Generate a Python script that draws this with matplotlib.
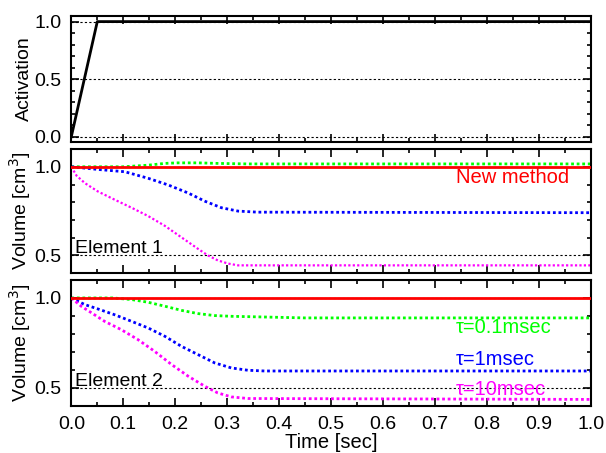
import matplotlib.pyplot as plt
from matplotlib.ticker import MultipleLocator

plt.rcParams['font.family'] = ['Liberation Sans', 'DejaVu Sans']

# activation
act_t = [0.0, 0.05, 1.0]
act_v = [0.0, 1.0, 1.0]

# element 1
e1_new_t = [0.0, 1.0]
e1_new_v = [1.0, 1.0]
e1_g_t = [0.0, 0.10, 0.148, 0.18, 0.205, 0.244, 0.282, 0.34, 1.0]
e1_g_v = [1.0, 1.0, 1.009, 1.019, 1.022, 1.022, 1.019, 1.016, 1.016]
e1_b_t = [0.0, 0.051, 0.103, 0.148, 0.186, 0.225, 0.257, 0.289, 0.321, 0.359, 1.0]
e1_b_v = [1.0, 0.985, 0.972, 0.935, 0.898, 0.852, 0.806, 0.769, 0.75, 0.744, 0.741]
e1_m_t = [0.0, 0.01, 0.026, 0.051, 0.083, 0.116, 0.148, 0.18, 0.212, 0.244,
          0.263, 0.282, 0.302, 0.321, 1.0]
e1_m_v = [1.0, 0.95, 0.908, 0.861, 0.815, 0.769, 0.722, 0.667, 0.602, 0.537,
          0.5, 0.472, 0.454, 0.444, 0.444]

# element 2
e2_new_t = [0.0, 1.0]
e2_new_v = [1.0, 1.0]
e2_g_t = [0.0, 0.08, 0.116, 0.148, 0.18, 0.212, 0.244, 0.276, 0.308, 0.372, 0.45, 1.0]
e2_g_v = [1.0, 1.0, 0.991, 0.976, 0.954, 0.931, 0.913, 0.902, 0.898, 0.894, 0.889, 0.889]
e2_b_t = [0.0, 0.026, 0.051, 0.083, 0.116, 0.148, 0.18, 0.212, 0.244, 0.276,
          0.308, 0.34, 0.372, 1.0]
e2_b_v = [1.0, 0.963, 0.939, 0.907, 0.87, 0.833, 0.787, 0.731, 0.685, 0.639,
          0.611, 0.598, 0.594, 0.594]
e2_m_t = [0.0, 0.019, 0.039, 0.064, 0.096, 0.128, 0.16, 0.193, 0.225, 0.257,
          0.282, 0.308, 0.34, 1.0]
e2_m_v = [1.0, 0.954, 0.917, 0.87, 0.824, 0.769, 0.704, 0.63, 0.565, 0.509,
          0.472, 0.45, 0.441, 0.436]

xticks = [0.0, 0.1, 0.2, 0.3, 0.4, 0.5, 0.6, 0.7, 0.8, 0.9, 1.0]

fig = plt.figure(figsize=(6.06, 4.53), dpi=100)
ax1 = fig.add_axes([0.1177, 0.687, 0.857, 0.278])
ax2 = fig.add_axes([0.1177, 0.397, 0.857, 0.274])
ax3 = fig.add_axes([0.1177, 0.104, 0.857, 0.278])

dots = (0, (1, 1))

def style(ax, ylim, yticks):
    ax.set_xlim(0, 1)
    ax.set_ylim(*ylim)
    ax.set_xticks(xticks)
    ax.set_yticks(yticks)
    ax.xaxis.set_minor_locator(MultipleLocator(0.05))
    ax.yaxis.set_minor_locator(MultipleLocator(0.1))
    ax.tick_params(which='both', direction='in', top=True, right=True,
                   labelsize=14, width=1.2, pad=7)
    ax.tick_params(which='major', length=6)
    ax.tick_params(which='minor', length=3)
    for s in ax.spines.values():
        s.set_linewidth(1.5)
    for y in yticks:
        ax.axhline(y, color='black', lw=0.8, ls=(0, (2, 2)), zorder=1)

style(ax1, (-0.045, 1.05), [0.0, 0.5, 1.0])
ax1.plot(act_t, act_v, color='black', lw=2, zorder=3)
ax1.set_ylabel('Activation', fontsize=14)
ax1.tick_params(labelbottom=False)

style(ax2, (0.4, 1.1), [0.5, 1.0])
ax2.plot(e1_g_t, e1_g_v, color='#00ff00', lw=2, ls=dots, zorder=2)
ax2.plot(e1_b_t, e1_b_v, color='#0000ff', lw=2, ls=dots, zorder=2)
ax2.plot(e1_m_t, e1_m_v, color='#ff00ff', lw=1.6, ls=dots, zorder=2)
ax2.plot(e1_new_t, e1_new_v, color='#ff0000', lw=2, zorder=3)
ax2.text(0.74, 0.942, 'New method', color='#ff0000', fontsize=14.5, va='center')
ax2.text(0.007, 0.512, 'Element 1', color='black', fontsize=14, va='baseline')
ax2.set_ylabel('Volume [cm$^3$]', fontsize=14)
ax2.tick_params(labelbottom=False)

style(ax3, (0.4, 1.1), [0.5, 1.0])
ax3.plot(e2_g_t, e2_g_v, color='#00ff00', lw=2, ls=dots, zorder=2)
ax3.plot(e2_b_t, e2_b_v, color='#0000ff', lw=2, ls=dots, zorder=2)
ax3.plot(e2_m_t, e2_m_v, color='#ff00ff', lw=2, ls=dots, zorder=2)
ax3.plot(e2_new_t, e2_new_v, color='#ff0000', lw=2, zorder=3)
ax3.text(0.74, 0.833, 'τ=0.1msec', color='#00ff00', fontsize=14.5, va='center')
ax3.text(0.74, 0.66, 'τ=1msec', color='#0000ff', fontsize=14.5, va='center')
ax3.text(0.74, 0.49, 'τ=10msec', color='#ff00ff', fontsize=14.5, va='center')
ax3.text(0.007, 0.512, 'Element 2', color='black', fontsize=14, va='baseline')
ax3.set_ylabel('Volume [cm$^3$]', fontsize=14)
ax3.set_xlabel('Time [sec]', fontsize=14.5, labelpad=0)

for ax in (ax1, ax2, ax3):
    ax.yaxis.set_label_coords(-0.074, 0.5)

fig.savefig('out.png', dpi=100)
